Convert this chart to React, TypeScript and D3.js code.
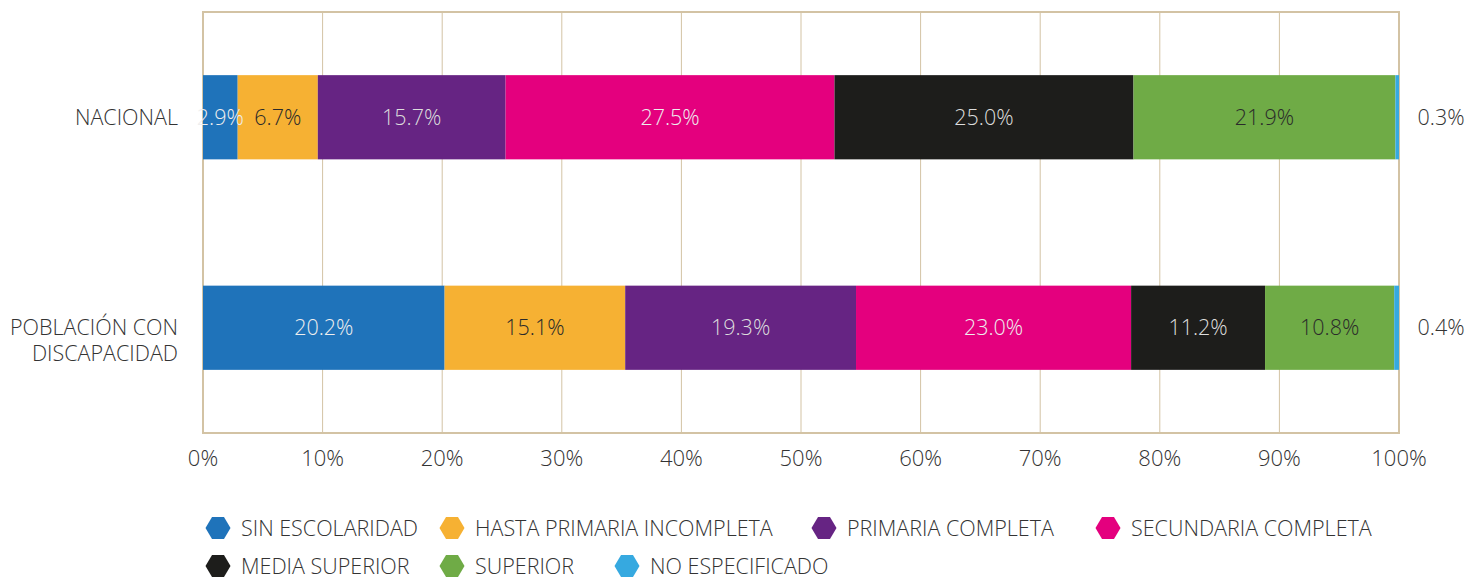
import * as d3 from 'd3';
import { useEffect, useRef } from 'react';

const categories = ['NACIONAL', 'POBLACIÓN CON DISCAPACIDAD'];
const categoryLines = [['NACIONAL'], ['POBLACIÓN CON', 'DISCAPACIDAD']];
const seriesNames = [
  'SIN ESCOLARIDAD',
  'HASTA PRIMARIA INCOMPLETA',
  'PRIMARIA COMPLETA',
  'SECUNDARIA COMPLETA',
  'MEDIA SUPERIOR',
  'SUPERIOR',
  'NO ESPECIFICADO',
];
const nacional = [2.9, 6.7, 15.7, 27.5, 25.0, 21.9, 0.3];
const discapacidad = [20.2, 15.1, 19.3, 23.0, 11.2, 10.8, 0.4];
const xTicks = [0, 10, 20, 30, 40, 50, 60, 70, 80, 90, 100];

const colors = ['#1f73ba', '#f6b133', '#662483', '#e4007e', '#1d1d1b', '#6fab46', '#36a9e0'];
const labelColors = ['#eeeeee', '#2a2a2a', '#dddddd', '#eeeeee', '#dddddd', '#2a2a2a', '#333333'];

const W = 1475;
const H = 578;
const FONT = '"Open Sans", sans-serif';
const FS = 21.5;

export default function App() {
  const ref = useRef(null);

  useEffect(() => {
    const svg = d3.select(ref.current);
    svg.selectAll('*').remove();

    const left = 203, right = 1399, top = 12, bottom = 433;
    const frameColor = '#d3c3a4';

    const x = d3.scaleLinear().domain([0, 100]).range([left, right]);
    const y = d3.scaleBand().domain(categories).range([top, bottom]).paddingInner(0.6).paddingOuter(0.3);

    const rows = [nacional, discapacidad];

    // gridlines
    svg.append('g')
      .selectAll('line')
      .data(xTicks.slice(1, -1))
      .enter()
      .append('line')
      .attr('x1', d => x(d)).attr('x2', d => x(d))
      .attr('y1', top).attr('y2', bottom)
      .attr('stroke', frameColor)
      .attr('stroke-width', 1);

    // frame
    svg.append('rect')
      .attr('x', left).attr('y', top)
      .attr('width', right - left).attr('height', bottom - top)
      .attr('fill', 'none')
      .attr('stroke', frameColor)
      .attr('stroke-width', 2);

    // bars
    rows.forEach((vals, ri) => {
      const cat = categories[ri];
      let acc = 0;
      const segs = vals.map((v, i) => {
        const s = { i, v, x0: acc, x1: acc + v };
        acc += v;
        return s;
      });
      const g = svg.append('g');
      g.selectAll('rect')
        .data(segs)
        .enter()
        .append('rect')
        .attr('x', d => x(d.x0))
        .attr('y', y(cat))
        .attr('width', d => x(Math.min(d.x1, 100)) - x(d.x0))
        .attr('height', y.bandwidth())
        .attr('fill', d => colors[d.i]);

      const cy = y(cat) + y.bandwidth() / 2;
      g.selectAll('text')
        .data(segs)
        .enter()
        .append('text')
        .attr('x', d => (d.i === segs.length - 1 ? right + 42 : x((d.x0 + d.x1) / 2)))
        .attr('y', cy)
        .attr('dy', '0.35em')
        .attr('text-anchor', 'middle')
        .attr('font-family', FONT)
        .attr('font-weight', 300)
        .attr('font-size', FS)
        .attr('fill', d => labelColors[d.i])
        .text(d => `${d.v.toFixed(1)}%`);
    });

    // category labels
    categories.forEach((cat, ci) => {
      const cy = y(cat) + y.bandwidth() / 2;
      const t = svg.append('text')
        .attr('x', 178)
        .attr('y', cy)
        .attr('text-anchor', 'end')
        .attr('font-family', FONT)
        .attr('font-weight', 300)
        .attr('font-size', FS)
        .attr('fill', '#333');
      categoryLines[ci].forEach((line, li) => {
        t.append('tspan').attr('x', 178).attr('dy', li === 0 ? '0.35em' : 26).text(line);
      });
    });

    // x tick labels
    svg.append('g')
      .selectAll('text')
      .data(xTicks)
      .enter()
      .append('text')
      .attr('x', d => x(d))
      .attr('y', 458)
      .attr('dy', '0.35em')
      .attr('text-anchor', 'middle')
      .attr('font-family', FONT)
      .attr('font-weight', 300)
      .attr('font-size', 22)
      .attr('fill', '#333')
      .text(d => `${d}%`);

    // legend
    const legendX = [218, 452, 824, 1108, 218, 452, 627];
    const legendY = [528, 528, 528, 528, 566, 566, 566];
    const hex = (cx, cy) => {
      const w = 12.5, h = 11, k = 6;
      return `M${cx - w},${cy} L${cx - k},${cy - h} L${cx + k},${cy - h} L${cx + w},${cy} L${cx + k},${cy + h} L${cx - k},${cy + h} Z`;
    };
    const lg = svg.append('g')
      .selectAll('g')
      .data(seriesNames)
      .enter()
      .append('g');
    lg.append('path')
      .attr('d', (d, i) => hex(legendX[i], legendY[i]))
      .attr('fill', (d, i) => colors[i]);
    lg.append('text')
      .attr('x', (d, i) => legendX[i] + 23)
      .attr('y', (d, i) => legendY[i])
      .attr('dy', '0.35em')
      .attr('font-family', FONT)
      .attr('font-weight', 300)
      .attr('font-size', FS)
      .attr('fill', '#333')
      .text(d => d);

    return () => {
      svg.selectAll('*').remove();
    };
  }, []);

  return (
    <svg
      ref={ref}
      width={W}
      height={H}
      style={{ position: 'absolute', left: 0, top: 0, background: '#fff' }}
    />
  );
}
